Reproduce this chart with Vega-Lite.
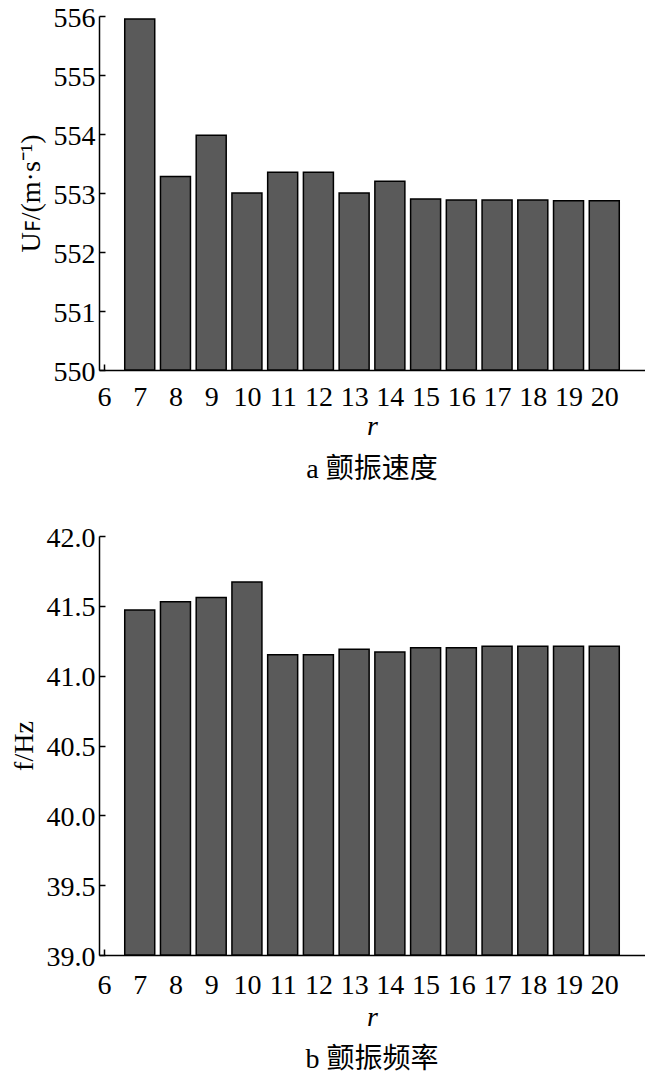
{
  "$schema": "https://vega.github.io/schema/vega-lite/v6.json",
  "background": "white",
  "padding": {"left": 10, "top": 4, "right": 0, "bottom": 0},
  "datasets": {
    "uf": [
      {"r": 7, "v": 555.95}, {"r": 8, "v": 553.28}, {"r": 9, "v": 553.98}, {"r": 10, "v": 553.0},
      {"r": 11, "v": 553.35}, {"r": 12, "v": 553.35}, {"r": 13, "v": 553.0}, {"r": 14, "v": 553.2},
      {"r": 15, "v": 552.9}, {"r": 16, "v": 552.88}, {"r": 17, "v": 552.88}, {"r": 18, "v": 552.88},
      {"r": 19, "v": 552.87}, {"r": 20, "v": 552.87}
    ],
    "freq": [
      {"r": 7, "v": 41.47}, {"r": 8, "v": 41.53}, {"r": 9, "v": 41.56}, {"r": 10, "v": 41.67},
      {"r": 11, "v": 41.15}, {"r": 12, "v": 41.15}, {"r": 13, "v": 41.19}, {"r": 14, "v": 41.17},
      {"r": 15, "v": 41.2}, {"r": 16, "v": 41.2}, {"r": 17, "v": 41.21}, {"r": 18, "v": 41.21},
      {"r": 19, "v": 41.21}, {"r": 20, "v": 41.21}
    ]
  },
  "config": {
    "font": "Liberation Serif, Noto Sans CJK SC",
    "view": {"stroke": null},
    "axis": {
      "labelFont": "Liberation Serif", "labelFontSize": 28, "labelColor": "black",
      "titleFont": "Liberation Serif", "titleFontSize": 28, "titleFontWeight": "normal", "titleColor": "black",
      "domainColor": "black", "tickColor": "black", "domainWidth": 1.5, "tickWidth": 1.5,
      "grid": false, "tickSize": -6, "labelFlush": false, "labelOverlap": false
    },
    "title": {"font": "Liberation Serif, Noto Sans CJK SC", "fontSize": 28, "fontWeight": "normal", "color": "black"}
  },
  "spacing": 40,
  "vconcat": [
    {
      "width": 546, "height": 354,
      "data": {"name": "uf"},
      "title": {"text": "a 颤振速度", "orient": "bottom", "offset": 16},
      "mark": {"type": "bar", "width": 30, "fill": "#5a5a5a", "stroke": "black", "strokeWidth": 1.5},
      "encoding": {
        "x": {"field": "r", "type": "quantitative",
          "scale": {"domain": [6, 21], "nice": false, "zero": false},
          "axis": {"values": [6,7,8,9,10,11,12,13,14,15,16,17,18,19,20], "title": "r", "titleFontStyle": "italic", "labelPadding": 19, "titlePadding": 1}},
        "y": {"field": "v", "type": "quantitative",
          "scale": {"domain": [550, 556], "nice": false, "zero": false},
          "axis": {"values": [550,551,552,553,554,555,556], "title": "Uꜰ/(m·s⁻¹)", "labelPadding": 10, "labelOffset": 2, "titlePadding": 8}},
        "y2": {"datum": 550}
      }
    },
    {
      "width": 546, "height": 419,
      "data": {"name": "freq"},
      "title": {"text": "b 颤振频率", "orient": "bottom", "offset": 15},
      "mark": {"type": "bar", "width": 30, "fill": "#5a5a5a", "stroke": "black", "strokeWidth": 1.5},
      "encoding": {
        "x": {"field": "r", "type": "quantitative",
          "scale": {"domain": [6, 21], "nice": false, "zero": false},
          "axis": {"values": [6,7,8,9,10,11,12,13,14,15,16,17,18,19,20], "title": "r", "titleFontStyle": "italic", "labelPadding": 22, "titlePadding": 4}},
        "y": {"field": "v", "type": "quantitative",
          "scale": {"domain": [39, 42], "nice": false, "zero": false},
          "axis": {"values": [39, 39.5, 40, 40.5, 41, 41.5, 42], "format": ".1f", "title": "f/Hz", "labelPadding": 10, "labelOffset": 2, "titlePadding": 8}},
        "y2": {"datum": 39}
      }
    }
  ]
}
